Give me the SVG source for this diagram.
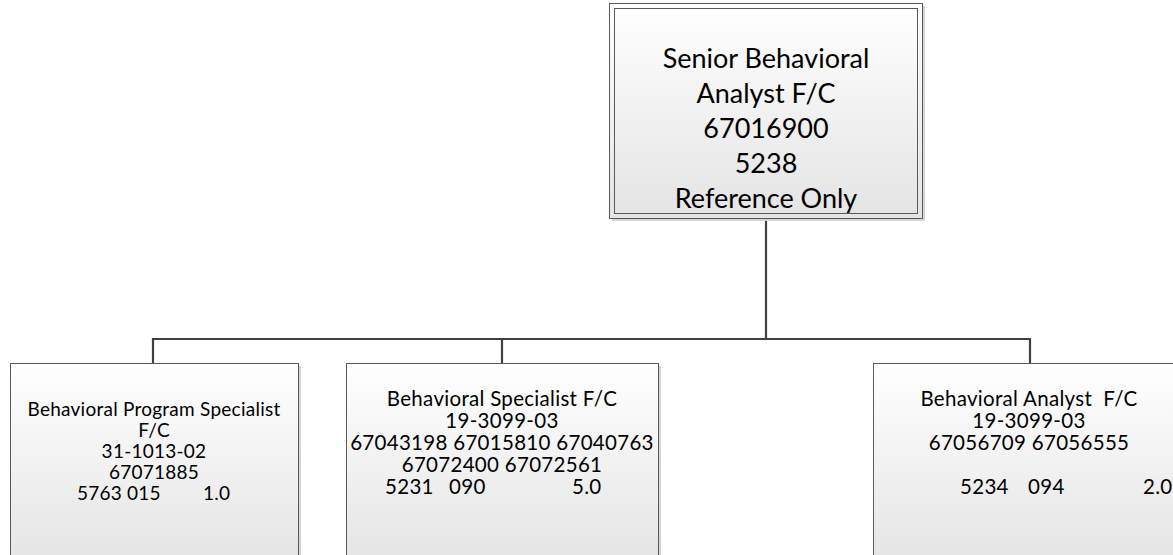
<svg xmlns="http://www.w3.org/2000/svg" width="1173" height="555" viewBox="0 0 1173 555">
  <defs>
    <linearGradient id="boxFill" x1="0" y1="0" x2="0" y2="1">
      <stop offset="0" stop-color="#ffffff"/>
      <stop offset="1" stop-color="#e4e4e4"/>
    </linearGradient>
    <style>
      .shadow { fill: #d6d6d6; }
      .box { fill: url(#boxFill); stroke: #5a5a5a; stroke-width: 1; }
      .inner { fill: none; stroke: #5a5a5a; stroke-width: 1; }
      .wire { fill: none; stroke: #404040; stroke-width: 2.2; }
      text { font-family: Lato, "Open Sans", sans-serif; fill: #000; text-anchor: middle; }
      .big { font-size: 27px; }
      .mid { font-size: 20.5px; letter-spacing: 0.3px; }
      .small { font-size: 19px; letter-spacing: 0.25px; }
      .l { text-anchor: start; }
    </style>
  </defs>

  <g id="connectors">
    <path class="wire" d="M766 218 V339 M153 339 H1030 M153 338 V363 M502 338 V363 M1030 338 V363"/>
  </g>

  <g id="senior-behavioral-analyst">
    <rect class="shadow" x="612" y="6" width="313" height="215"/>
    <rect class="box" x="609.5" y="3.5" width="313" height="215"/>
    <rect class="inner" x="614.5" y="8.5" width="303" height="205"/>
    <text class="big" x="766" y="68">Senior Behavioral</text>
    <text class="big" x="766" y="103">Analyst F/C</text>
    <text class="big" x="766" y="138">67016900</text>
    <text class="big" x="766" y="173">5238</text>
    <text class="big" x="766" y="208">Reference Only</text>
  </g>

  <g id="behavioral-program-specialist">
    <rect class="shadow" x="13" y="366" width="288" height="200"/>
    <rect class="box" x="10.5" y="363.5" width="288" height="200"/>
    <text class="small" x="154" y="416">Behavioral Program Specialist</text>
    <text class="small" x="154" y="437">F/C</text>
    <text class="small" x="154" y="458">31-1013-02</text>
    <text class="small" x="154" y="479">67071885</text>
    <text class="small l" y="500"><tspan x="77">5763</tspan><tspan x="127">015</tspan><tspan x="203">1.0</tspan></text>
  </g>

  <g id="behavioral-specialist">
    <rect class="shadow" x="349" y="366" width="312" height="200"/>
    <rect class="box" x="346.5" y="363.5" width="312" height="200"/>
    <text class="mid" x="502" y="406">Behavioral Specialist F/C</text>
    <text class="mid" x="502" y="428">19-3099-03</text>
    <text class="mid" x="502" y="450">67043198 67015810 67040763</text>
    <text class="mid" x="502" y="472">67072400 67072561</text>
    <text class="mid l" y="494"><tspan x="385">5231</tspan><tspan x="449">090</tspan><tspan x="572">5.0</tspan></text>
  </g>

  <g id="behavioral-analyst">
    <rect class="shadow" x="876" y="366" width="312" height="200"/>
    <rect class="box" x="873.5" y="363.5" width="312" height="200"/>
    <text class="mid" x="1029" y="406" xml:space="preserve">Behavioral Analyst  F/C</text>
    <text class="mid" x="1029" y="428">19-3099-03</text>
    <text class="mid" x="1029" y="450">67056709 67056555</text>
    <text class="mid l" y="494"><tspan x="960">5234</tspan><tspan x="1028">094</tspan><tspan x="1143">2.0</tspan></text>
  </g>
</svg>
